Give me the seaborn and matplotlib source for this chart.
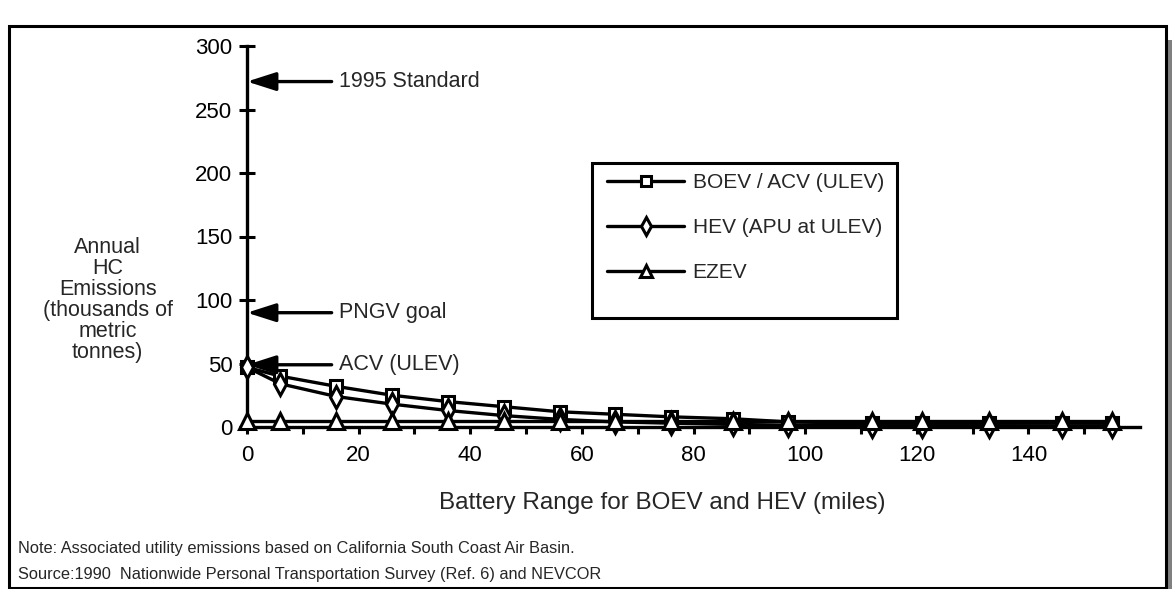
import numpy as np
import pandas as pd
import seaborn as sns
import matplotlib.pyplot as plt
from matplotlib.patches import Rectangle
from matplotlib.lines import Line2D

sns.set_style("white")
plt.rcParams['font.family'] = ['Liberation Sans', 'DejaVu Sans']

# battery range (miles) and annual HC emissions (thousands of metric tonnes)
battery_range = [0, 6, 16, 26, 36, 46, 56, 66, 76, 87, 97, 112, 121, 133, 146, 155]
boev_acv = [47, 40, 32, 25, 20, 16, 12, 10, 8, 6.5, 4, 3, 3, 3, 3.5, 3]
hev = [47, 34, 24, 18, 13, 9, 6, 4, 3, 2, 1.5, 1, 1, 1, 1, 1]
ezev = [5, 5, 5, 5, 5, 5, 5, 5, 5, 5, 5, 5, 5, 5, 5, 5]

series_names = ["BOEV / ACV (ULEV)", "HEV (APU at ULEV)", "EZEV"]
series_markers = ["s", "d", "^"]

# reference levels drawn as arrows onto the y axis
ref_labels = ["1995 Standard", "PNGV goal", "ACV (ULEV)"]
ref_values = [272, 90, 49]

W, H = 1174, 589
fig = plt.figure(figsize=(W / 100, H / 100), dpi=100)
ax = fig.add_axes([247 / W, 1 - 427 / H, (1140 - 247) / W, (427 - 46) / H])

for name, vals, mk in zip(series_names, [boev_acv, hev, ezev], series_markers):
    sns.lineplot(x=battery_range, y=vals, ax=ax, color="black", lw=2.4,
                 marker=mk, markersize=11 if mk != "s" else 9,
                 markerfacecolor="white", markeredgecolor="black",
                 markeredgewidth=2.2, label=name, legend=False, zorder=3,
                 clip_on=False)

ax.set_xlim(0, 160)
ax.set_ylim(0, 300)
ax.set_xticks(np.arange(0, 141, 20))
ax.set_xticks(np.arange(0, 151, 10), minor=True)
ax.set_yticks(np.arange(0, 301, 50))

for s in ["top", "right"]:
    ax.spines[s].set_visible(False)
for s in ["left", "bottom"]:
    ax.spines[s].set_linewidth(2.4)
    ax.spines[s].set_color("black")
    ax.spines[s].set_zorder(2)

ax.tick_params(axis="y", left=True, direction="inout", length=11, width=2.2,
               labelsize=16, pad=5, colors="black")
ax.tick_params(axis="x", which="both", bottom=True, direction="out", length=5,
               width=2.2, labelsize=16, pad=8, colors="black")

ax.set_xlabel("Battery Range for BOEV and HEV (miles)", fontsize=17.5)
ax.xaxis.set_label_coords(0.465, -0.17)
ax.set_ylabel("Annual\nHC\nEmissions\n(thousands of\nmetric\ntonnes)",
              rotation=0, fontsize=15.5, ha="center", va="center",
              multialignment="center", linespacing=1.0)
ax.yaxis.set_label_coords(-0.156, 0.333)

for lab, val in zip(ref_labels, ref_values):
    ax.annotate(lab, xy=(0, val), xytext=(16.5, val), fontsize=15.5,
                va="center", ha="left", annotation_clip=False, zorder=5,
                arrowprops=dict(arrowstyle="-|>,head_length=1.25,head_width=0.4",
                                mutation_scale=14, lw=2.4, color="black",
                                shrinkA=3, shrinkB=0))

# legend without frame, box drawn separately
handles = [Line2D([], [], color="black", lw=2.4, marker=m,
                  markersize=(9 if m != "s" else 7.5), markerfacecolor="white",
                  markeredgecolor="black", markeredgewidth=2.2)
           for m in series_markers]
leg = ax.legend(handles, series_names, loc="upper left",
                bbox_to_anchor=((600 - 247) / 893, (427 - 166) / 381),
                frameon=False, fontsize=15, handlelength=3.7,
                handletextpad=0.4, labelspacing=1.25, borderaxespad=0,
                borderpad=0.35)
fig.patches.append(Rectangle((592 / W, 1 - 318 / H), 305 / W, 155 / H,
                             transform=fig.transFigure, fill=False,
                             lw=2.2, edgecolor="black", zorder=4))

fig.text(18 / W, 1 - 549 / H,
         "Note: Associated utility emissions based on California South Coast Air Basin.",
         fontsize=11.8, va="center", ha="left")
fig.text(18 / W, 1 - 574 / H,
         "Source:1990  Nationwide Personal Transportation Survey (Ref. 6) and NEVCOR",
         fontsize=11.8, va="center", ha="left")

# outer frame with grey shadow on the right
fig.patches.append(Rectangle((1168 / W, 0), 4 / W, 1 - 40 / H,
                             transform=fig.transFigure, color="#808080", lw=0))
fig.patches.append(Rectangle((9 / W, 1 / H), 1157 / W, 1 - 27 / H,
                             transform=fig.transFigure, fill=False,
                             lw=2.2, edgecolor="black"))

plt.savefig("out.png", dpi=100)
